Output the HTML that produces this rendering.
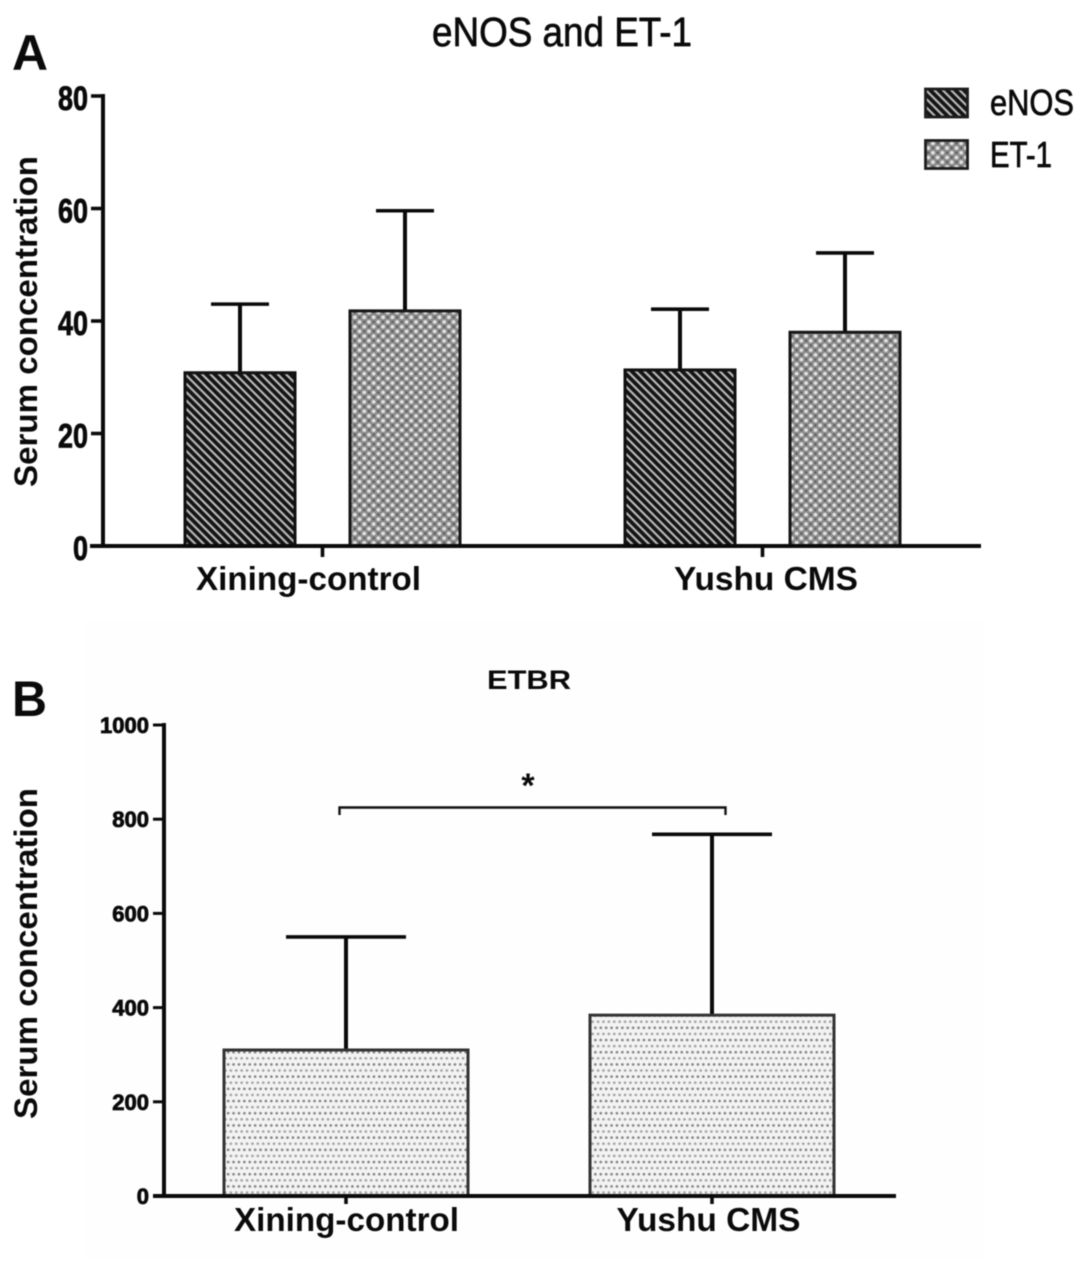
<!DOCTYPE html>
<html>
<head>
<meta charset="utf-8">
<title>eNOS, ET-1 and ETBR serum concentration</title>
<style>
html,body{margin:0;padding:0;background:#fff;}
svg{display:block;filter:blur(0.55px);}
text{font-family:"Liberation Sans",Arial,sans-serif;fill:#0a0a0a;}
.b{font-weight:bold;}
.t{stroke:#0a0a0a;stroke-width:.8px;}
.r{stroke:#0a0a0a;stroke-width:.7px;}
</style>
</head>
<body>
<svg id="figure" xmlns="http://www.w3.org/2000/svg" width="1087" height="1265" viewBox="0 0 1087 1265">
<defs>
<pattern id="p-stripe" width="8.4" height="8.4" patternUnits="userSpaceOnUse">
<rect width="8.4" height="8.4" fill="#bdbdbd"/>
<path d="M-2.1,-2.1L10.5,10.5M-2.1,6.3L2.1,10.5M6.3,-2.1L10.5,2.1" stroke="#141414" stroke-width="3.8"/>
</pattern>
<pattern id="p-check" width="9.4" height="9.4" patternUnits="userSpaceOnUse">
<rect width="9.4" height="9.4" fill="#8c8c8c"/>
<circle cx="2.35" cy="2.35" r="1.9" fill="#e2e2e2"/>
<circle cx="7.05" cy="7.05" r="1.9" fill="#e2e2e2"/>
<circle cx="7.05" cy="2.35" r="1.2" fill="#5a5a5a"/>
<circle cx="2.35" cy="7.05" r="1.2" fill="#5a5a5a"/>
</pattern>
<pattern id="p-dot" width="5.4" height="12.2" patternUnits="userSpaceOnUse">
<rect width="5.4" height="12.2" fill="#f3f3f3"/>
<circle cx="1.35" cy="3" r="1.3" fill="#808080"/>
<circle cx="4.05" cy="9.1" r="1.3" fill="#a0a0a0"/>
</pattern>
</defs>

<rect x="85" y="620" width="900" height="640" fill="#fefefe"/>

<g id="panel-a">
<text class="b" x="12" y="70" font-size="50" textLength="36" lengthAdjust="spacingAndGlyphs">A</text>
<text class="r" x="432" y="46" font-size="41" textLength="260" lengthAdjust="spacingAndGlyphs">eNOS and ET-1</text>
<text class="b" transform="translate(37,487) rotate(-90)" font-size="32" textLength="331" lengthAdjust="spacingAndGlyphs">Serum concentration</text>
<g>
<rect x="925.5" y="89" width="42" height="28" fill="url(#p-stripe)" stroke="#1c1c1c" stroke-width="2.8"/>
<text class="r" x="990" y="115" font-size="36" textLength="84" lengthAdjust="spacingAndGlyphs">eNOS</text>
<rect x="925.5" y="140.5" width="42" height="28" fill="url(#p-check)" stroke="#1c1c1c" stroke-width="2.8"/>
<text class="r" x="990" y="167" font-size="36" textLength="62" lengthAdjust="spacingAndGlyphs">ET-1</text>
</g>
</g>

<g id="panel-b">
<text class="b" x="12" y="716" font-size="50" textLength="35" lengthAdjust="spacingAndGlyphs">B</text>
<text class="b" x="487" y="689" font-size="27" textLength="84" lengthAdjust="spacingAndGlyphs">ETBR</text>
<text class="b" transform="translate(37,1119) rotate(-90)" font-size="32" textLength="331" lengthAdjust="spacingAndGlyphs">Serum concentration</text>
<path d="M339.5,815V807.5H725.5V815" fill="none" stroke="#111" stroke-width="2.4"/>
<text class="b" x="528" y="797" font-size="34" text-anchor="middle">*</text>
</g>

<script>
var categoriesA = ['Xining-control', 'Yushu CMS'];
var seriesA = ['enos', 'et1'];
var enosMeans = [30.8, 31.3];
var enosErrors = [43, 42.1];
var et1Means = [41.8, 38];
var et1Errors = [59.6, 52.1];
var ticksA = [0, 20, 40, 60, 80];

var categoriesB = ['Xining-control', 'Yushu CMS'];
var etbrMeans = [310, 384];
var etbrErrors = [550, 768];
var ticksB = [0, 200, 400, 600, 800, 1000];

var NS = 'http://www.w3.org/2000/svg';

function make(tag, parent, attrs) {
  var el = document.createElementNS(NS, tag);
  for (var k in attrs) { el.setAttribute(k, attrs[k]); }
  parent.appendChild(el);
  return el;
}

function yA(v) { return 546 - v * 450 / 80; }
function xA(i) { return 102.5 + (i + 0.5) * 440; }
function yB(v) { return 1196 - v * 471 / 1000; }
function xB(i) { return 163 + (i + 0.5) * 366; }

var panelA = document.getElementById('panel-a');
var panelB = document.getElementById('panel-b');

function drawBar(parent, cx, halfW, capHalf, yTop, yErr, yBase, fill, strokeCol, strokeW, name) {
  var stem = make('line', parent, {x1: cx, x2: cx, y1: yErr, y2: yTop, stroke: '#0a0a0a', 'stroke-width': 4});
  
  
  var cap = make('line', parent, {x1: cx - capHalf, x2: cx + capHalf, y1: yErr, y2: yErr, stroke: '#0a0a0a', 'stroke-width': 3.6});
  
  
  var bar = make('rect', parent, {x: cx - halfW, y: yTop, width: halfW * 2, height: yBase - yTop, fill: fill, stroke: strokeCol, 'stroke-width': strokeW});
  
  
}

/* Panel A bars */
categoriesA.forEach(function (cat, i) {
  var cx = xA(i);
  drawBar(panelA, cx - 82.5, 55, 29, yA(enosMeans[i]), yA(enosErrors[i]), yA(0), 'url(#p-stripe)', '#111111', 3, 'enos-' + i);
  drawBar(panelA, cx + 82.5, 55, 29, yA(et1Means[i]), yA(et1Errors[i]), yA(0), 'url(#p-check)', '#161616', 3, 'et1-' + i);
});

/* Panel B bars */
categoriesB.forEach(function (cat, i) {
  drawBar(panelB, xB(i), 122, 60, yB(etbrMeans[i]), yB(etbrErrors[i]), yB(0), 'url(#p-dot)', '#333333', 3, 'etbr-' + i);
});

/* Panel A axes */
var axisAY = make('line', panelA, {x1: 103, x2: 103, y1: yA(80) - 2, y2: yA(0) + 2, stroke: '#0a0a0a', 'stroke-width': 4});


var axisAX = make('line', panelA, {x1: 90, x2: 981, y1: yA(0), y2: yA(0), stroke: '#0a0a0a', 'stroke-width': 4});



ticksA.forEach(function (t) {
  var y = yA(t);
  var tick = make('line', panelA, {x1: 91, x2: 103, y1: y, y2: y, stroke: '#0a0a0a', 'stroke-width': 3.6});
  
  
  var s = String(t);
  var lab = make('text', panelA, {x: 88, y: y + 14, 'font-size': 34, 'text-anchor': 'end', 'class': 'b t', textLength: s.length * 15, lengthAdjust: 'spacingAndGlyphs'});
  
  
  lab.textContent = s;
});

var catWidthsA = [225, 184];
categoriesA.forEach(function (cat, i) {
  var cx = xA(i);
  var tick = make('line', panelA, {x1: cx, x2: cx, y1: yA(0), y2: yA(0) + 11, stroke: '#0a0a0a', 'stroke-width': 3.6});
  
  
  var lab = make('text', panelA, {x: cx + (i === 0 ? -14 : 3.5), y: 590, 'font-size': 33, 'text-anchor': 'middle', 'class': 'b', textLength: catWidthsA[i], lengthAdjust: 'spacingAndGlyphs'});
  
  
  lab.textContent = cat;
});

/* Panel B axes */
var axisBY = make('line', panelB, {x1: 164, x2: 164, y1: yB(1000) - 2, y2: yB(0) + 2, stroke: '#0a0a0a', 'stroke-width': 4});


var axisBX = make('line', panelB, {x1: 153, x2: 896, y1: yB(0), y2: yB(0), stroke: '#0a0a0a', 'stroke-width': 4});



ticksB.forEach(function (t) {
  var y = yB(t);
  var tick = make('line', panelB, {x1: 153, x2: 164, y1: y, y2: y, stroke: '#0a0a0a', 'stroke-width': 3});
  
  
  var lab = make('text', panelB, {x: 149, y: y + 8, 'font-size': 22, 'text-anchor': 'end', 'class': 'b t'});
  
  
  lab.textContent = String(t);
});

var catWidthsB = [225, 184];
categoriesB.forEach(function (cat, i) {
  var cx = xB(i);
  var tick = make('line', panelB, {x1: cx, x2: cx, y1: yB(0), y2: yB(0) + 8, stroke: '#0a0a0a', 'stroke-width': 3.6});
  
  
  var lab = make('text', panelB, {x: cx + (i === 0 ? 0.5 : -3.5), y: 1231, 'font-size': 33, 'text-anchor': 'middle', 'class': 'b', textLength: catWidthsB[i], lengthAdjust: 'spacingAndGlyphs'});
  
  
  lab.textContent = cat;
});
</script>
</svg>
</body>
</html>
